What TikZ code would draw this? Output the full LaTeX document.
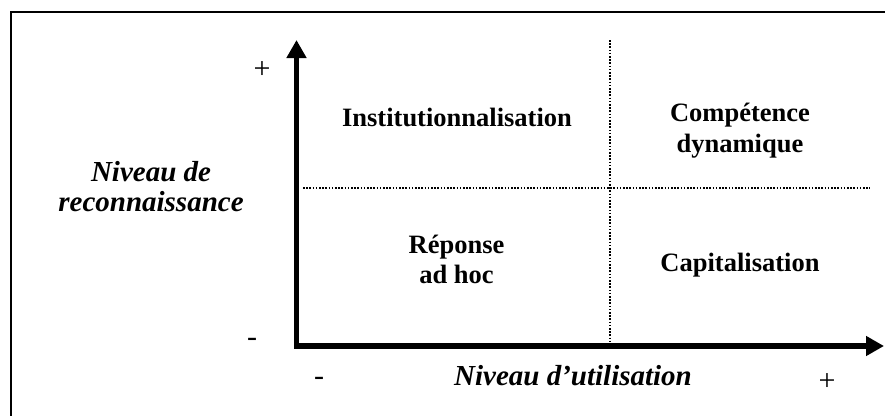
\documentclass[tikz,border=0pt]{standalone}
\usepackage{fontspec}
\setmainfont{Liberation Serif}
\usetikzlibrary{arrows.meta}
\begin{document}
\begin{tikzpicture}[x=1pt,y=-1pt,
  frame/.style={line width=1.3pt},
  axis/.style={line width=5.5pt,{Triangle[length=18pt,width=19pt]}-{Triangle[length=18pt,width=19pt]}},
  sep/.style={line width=2pt,dash pattern=on 1.6pt off 1.6pt},
  quad/.style={font=\fontsize{26.5}{30.5}\selectfont\bfseries,align=center,anchor=base,inner sep=0pt},
  axlabel/.style={font=\fontsize{29}{30}\selectfont\bfseries\itshape,align=center,anchor=base,inner sep=0pt},
  sign/.style={font=\fontsize{30}{30}\selectfont,anchor=center,inner sep=0pt}]
\useasboundingbox (0,0) rectangle (885,415);
\clip (0,0) rectangle (885,415);
% frame
\coordinate (fbl) at (11,430);
\coordinate (ftl) at (11,12);
\coordinate (ftr) at (900,12);
\draw[frame] (fbl) -- (ftl) -- (ftr);
% separators
\coordinate (vt) at (610,40);
\coordinate (vb) at (610,343);
\coordinate (hl) at (303,188);
\coordinate (hr) at (870,188);
\draw[sep] (vt) -- (vb);
\draw[sep] (hl) -- (hr);
% axes
\coordinate (ytip) at (296.5,40);
\coordinate (orig) at (296.5,346);
\coordinate (xtip) at (884,346);
\draw[axis] (ytip) -- (orig) -- (xtip);
% quadrant labels (multi-line nodes: anchor at last baseline)
\node[quad] (inst) at (457,126.5) {Institutionnalisation};
\node[quad] (comp) at (740,152) {Compétence\\dynamique};
\node[quad] (rep) at (456.5,283.5) {Réponse\\ad hoc};
\node[quad] (cap) at (740,271.5) {Capitalisation};
% axis labels
\node[axlabel] (ylab) at (151,211.5) {Niveau de\\reconnaissance};
\node[axlabel] (xlab) at (573,385) {Niveau d’utilisation};
% signs
\node[sign] (yplus) at (262,70) {+};
\node[sign] (yminus) at (252,342) {-};
\node[sign] (xminus) at (319,381) {-};
\node[sign] (xplus) at (827,382) {+};
\end{tikzpicture}
\end{document}
